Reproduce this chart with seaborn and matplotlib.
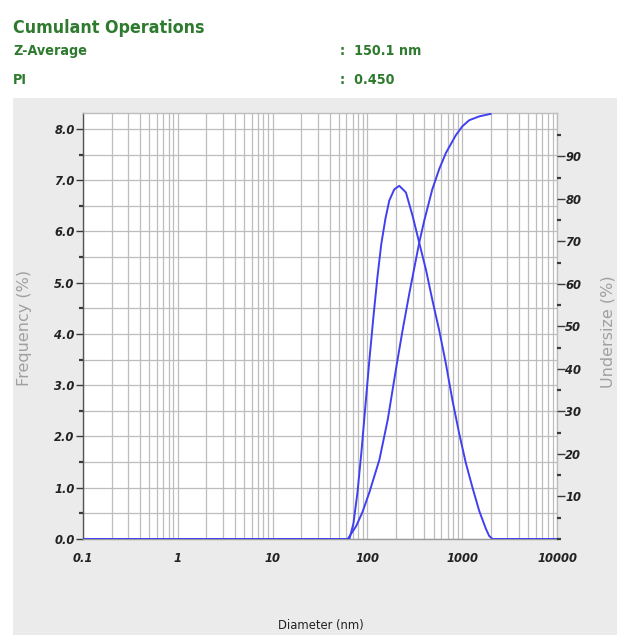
import numpy as np
import pandas as pd
import matplotlib
matplotlib.use("Agg")
import matplotlib.pyplot as plt
import seaborn as sns
from matplotlib import font_manager
from matplotlib.font_manager import FontProperties
from matplotlib.patches import Rectangle

# ---- data ----
freq_diam = [0.1, 64.6, 71.2, 78.5, 86.5, 95.3, 105, 116, 127.4, 140, 155, 170, 192, 217,
             255, 300, 352, 415, 486, 572, 673, 790, 929, 1093, 1285, 1511, 1777, 1925, 2090,
             10000]
freq_val = [0.0, 0.0, 0.3, 0.9, 1.7, 2.6, 3.5, 4.35, 5.1, 5.75, 6.25, 6.6, 6.82, 6.89,
            6.76, 6.3, 5.78, 5.25, 4.65, 4.07, 3.42, 2.70, 2.06, 1.48, 1.0, 0.55, 0.2, 0.06, 0.0,
            0.0]

cum_diam = [62, 76, 88.6, 105, 134, 164, 202, 235, 277, 352, 398, 483, 572, 673,
            858, 1007, 1185, 1510, 2000]
cum_val = [0.0, 3.0, 6.3, 11.0, 18.7, 28.1, 40.5, 49.1, 57.8, 69.7, 74.9, 82.2, 87.0, 90.8,
           95.0, 97.1, 98.5, 99.4, 100.0]

x_ticks = [0.1, 1, 10, 100, 1000, 10000]
x_tick_labels = ["0.1", "1", "10", "100", "1000", "10000"]
left_ticks = [0, 1, 2, 3, 4, 5, 6, 7, 8]
left_tick_labels = ["0.0", "1.0", "2.0", "3.0", "4.0", "5.0", "6.0", "7.0", "8.0"]
right_ticks = [10, 20, 30, 40, 50, 60, 70, 80, 90]
right_tick_labels = ["10", "20", "30", "40", "50", "60", "70", "80", "90"]

header_title = "Cumulant Operations"
header_rows = [("Z-Average", ":  150.1 nm"), ("PI", ":  0.450")]

# ---- style ----
sns.set_style("white")
cond_path = font_manager.findfont(FontProperties(family="DejaVu Sans", stretch="condensed",
                                                 weight="bold"), fallback_to_default=True)
use_cond = "Condensed" in cond_path
plt.rcParams["font.family"] = ["DejaVu Sans"] if use_cond else ["Liberation Sans", "DejaVu Sans"]
stretch = "condensed" if use_cond else "normal"
k = 1.0 if use_cond else 0.9  # size factor to mimic narrow face

W, H = 617, 635
fig = plt.figure(figsize=(W / 100, H / 100), dpi=100, facecolor="white")
fig.patches.append(Rectangle((13 / W, 0), 1 - 13 / W, (H - 98) / H, transform=fig.transFigure,
                             facecolor="#ebebeb", edgecolor="none", zorder=-10))

ax = fig.add_axes([83 / W, (H - 539) / H, (557 - 83) / W, (539 - 113) / H])
ax.set_facecolor("white")
ax2 = ax.twinx()

blue = "#4040f0"
sns.lineplot(x=freq_diam, y=freq_val, ax=ax, color=blue, lw=1.4, estimator=None, sort=False, zorder=5)
sns.lineplot(x=cum_diam, y=cum_val, ax=ax2, color=blue, lw=1.4, estimator=None, sort=False, zorder=5)

ax.set_xscale("log")
ax.set_xlim(0.1, 10000)
ax.set_ylim(0, 8.31)
ax2.set_ylim(0, 100.2)
for a in (ax, ax2):
    a.set_xlabel("")
    a.set_ylabel("")

grid_c = "#bdbdbd"
tick_c = "#3a3a3a"
ax.set_xticks(x_ticks, labels=x_tick_labels)
ax.set_yticks(left_ticks, labels=left_tick_labels)
ax.set_yticks(np.arange(0.5, 8.3, 1.0), minor=True)
ax.grid(True, which="both", color=grid_c, lw=0.9)
ax.set_axisbelow(True)

ts = 9.2 * k
ax.tick_params(axis="y", which="major", direction="out", length=5, width=1, color=tick_c,
               pad=1, labelsize=ts, labelcolor="#222222")
ax.tick_params(axis="y", which="minor", direction="out", length=3, width=1.6, color=tick_c)
ax.tick_params(axis="x", which="major", direction="inout", length=8, width=1, color=tick_c,
               pad=5, labelsize=ts, labelcolor="#222222")
ax.tick_params(axis="x", which="minor", direction="inout", length=5, width=1.3, color="#555555")

ax2.set_yticks(right_ticks, labels=right_tick_labels)
ax2.set_yticks([0, 5, 15, 25, 35, 45, 55, 65, 75, 85, 95], minor=True)
ax2.tick_params(axis="y", which="major", direction="out", length=6, width=1, color=tick_c,
                pad=0, labelsize=ts, labelcolor="#222222")
ax2.tick_params(axis="y", which="minor", direction="out", length=3, width=1.6, color=tick_c)
ax2.grid(False)

for s in ax2.spines.values():
    s.set_visible(False)
ax.spines["left"].set_color("#555555")
ax.spines["bottom"].set_color("#9a9a9a")
ax.spines["top"].set_color(grid_c)
ax.spines["right"].set_color(grid_c)
for s in ax.spines.values():
    s.set_linewidth(1)

for lbl in ax.get_xticklabels() + ax.get_yticklabels() + ax2.get_yticklabels():
    lbl.set_fontweight("bold")
    lbl.set_fontstyle("italic")
    lbl.set_fontstretch(stretch)

green = "#2e7a2e"
fig.text(13 / W, 1 - 33 / H, header_title, fontsize=12.8 * k, fontweight="bold", color=green,
         va="baseline", fontstretch=stretch)
for (lab, val), yb in zip(header_rows, [55, 84]):
    fig.text(13 / W, 1 - yb / H, lab, fontsize=10.3 * k, fontweight="bold", color=green,
             va="baseline", fontstretch=stretch)
    fig.text(340 / W, 1 - yb / H, val, fontsize=10.3 * k, fontweight="bold", color=green,
             va="baseline", fontstretch=stretch)

fig.text(25 / W, 1 - 328 / H, "Frequency (%)", rotation=90, color="#a0a0a0", fontsize=11.5,
         ha="center", va="center")
fig.text(608 / W, 1 - 332 / H, "Undersize (%)", rotation=90, color="#a0a0a0", fontsize=11.5,
         ha="center", va="center")
fig.text(321 / W, 1 - 625 / H, "Diameter (nm)", color="#222222", fontsize=9.3 * k,
         ha="center", va="center", fontstretch=stretch)

fig.savefig("out.png", dpi=100, facecolor="white")
